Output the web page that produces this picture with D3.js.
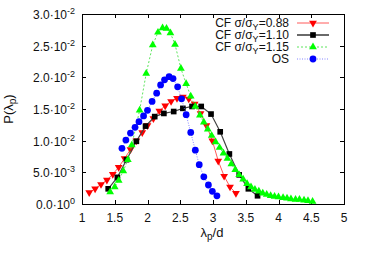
<!DOCTYPE html>
<html>
<head>
<meta charset="utf-8">
<script src="https://cdn.jsdelivr.net/npm/d3@7"></script>
<style>
  body { margin: 0; background: #fff; }
  text { font-family: "Liberation Sans", Arial, sans-serif; fill: #111; }
</style>
</head>
<body>
<svg id="chart"></svg>
<script>
// CF sigma/sigmaY = 0.88
var redX = [1.11,1.20,1.29,1.38,1.47,1.56,1.65,1.74,1.83,1.92,2.00,2.09,2.18,2.27,2.36,2.45,2.54,2.63,2.72,2.81,2.90,2.99,3.08,3.17,3.26,3.35];
var redY = [.0018,.0024,.0031,.0038,.0047,.0058,.0072,.0086,.0100,.0113,.0124,.0135,.0147,.0155,.0162,.0167,.0169,.0166,.0158,.0143,.0124,.0100,.0068,.0044,.0027,.0017];
// CF sigma/sigmaY = 1.10
var blackX = [1.40,1.54,1.68,1.83,1.97,2.11,2.25,2.40,2.54,2.68,2.82,2.97,3.11,3.25,3.40,3.54,3.68];
var blackY = [.0024,.0042,.0070,.0099,.0123,.0138,.0143,.0146,.0151,.0154,.0154,.0142,.0114,.0079,.0046,.0024,.0013];
// CF sigma/sigmaY = 1.15
var greenX = [1.43,1.50,1.56,1.63,1.70,1.76,1.88,1.98,2.08,2.16,2.23,2.29,2.35,2.42,2.51,2.59,2.66,2.73,2.80,2.86,2.92,2.98,3.04,3.10,3.16,3.22,3.28,3.34,3.40,3.46,3.52,3.58,3.64,3.70,3.76,3.82,3.88,3.94,4.00,4.07,4.13,4.19,4.26,4.32,4.39,4.45,4.52];
var greenY = [.0019,.0027,.0037,.0052,.0070,.0093,.0148,.0206,.0251,.0271,.0278,.0277,.0270,.0252,.0214,.0190,.0170,.0154,.0140,.0129,.0118,.0108,.0098,.0089,.0080,.0072,.0063,.0054,.0046,.0039,.0032,.0027,.0023,.0020,.0017,.0015,.0013,.0012,.0011,.0010,.0009,.0008,.0007,.0007,.0006,.0005,.0004];
// OS
var blueX = [1.61,1.67,1.74,1.81,1.87,1.94,2.00,2.07,2.14,2.20,2.26,2.33,2.39,2.46,2.52,2.59,2.66,2.73,2.79,2.86,2.93,2.99,3.06];
var blueY = [.0088,.0101,.0112,.0121,.0130,.0139,.0148,.0162,.0175,.0188,.0196,.0201,.0198,.0185,.0166,.0141,.0113,.0085,.0062,.0043,.0030,.0020,.0013];

var xTicks = [1,1.5,2,2.5,3,3.5,4,4.5,5];
var yTicks = [0,0.005,0.01,0.015,0.02,0.025,0.03];
var yTickMant = ["0.0","5.0","1.0","1.5","2.0","2.5","3.0"];
var yTickExp = ["0","-3","-2","-2","-2","-2","-2"];
var legendRatio = ["0.88","1.10","1.15"];

var width = 366, height = 256;
var plotL = 82, plotR = 344, plotT = 14, plotB = 204;

var svg = d3.select("#chart").attr("width", width).attr("height", height);

var x = d3.scaleLinear().domain([1,5]).range([plotL,plotR]);
var y = d3.scaleLinear().domain([0,0.03]).range([plotB,plotT]);

// ticks, inward on all sides
var tk = svg.append("g").attr("stroke","#000").attr("stroke-width",1);
xTicks.forEach(function(v){
  var px = Math.round(x(v)) + 0.5;
  tk.append("line").attr("x1",px).attr("x2",px).attr("y1",plotB).attr("y2",plotB-4);
  tk.append("line").attr("x1",px).attr("x2",px).attr("y1",plotT).attr("y2",plotT+4);
});
yTicks.forEach(function(v){
  var py = Math.round(y(v)) + 0.5;
  tk.append("line").attr("x1",plotL).attr("x2",plotL+4).attr("y1",py).attr("y2",py);
  tk.append("line").attr("x1",plotR).attr("x2",plotR-4).attr("y1",py).attr("y2",py);
});

svg.append("rect").attr("x",plotL+0.5).attr("y",plotT+0.5)
  .attr("width",plotR-plotL).attr("height",plotB-plotT)
  .attr("fill","none").attr("stroke","#000").attr("stroke-width",1);

// tick labels
svg.selectAll(".xl").data(xTicks).enter().append("text")
  .attr("x", function(d){ return x(d); })
  .attr("y", 222)
  .attr("text-anchor","middle")
  .attr("font-size",12)
  .text(function(d){ return d; });

var yl = svg.selectAll(".yl").data(yTicks).enter().append("text")
  .attr("x", 75)
  .attr("y", function(d){ return y(d) + 5; })
  .attr("text-anchor","end")
  .attr("font-size",12);
yl.append("tspan").text(function(d,i){ return yTickMant[i] + "\u00b710"; });
yl.append("tspan").attr("dy",-5).attr("font-size",9).text(function(d,i){ return yTickExp[i]; });

// axis titles
var xt = svg.append("text").attr("x",212).attr("y",237).attr("text-anchor","middle").attr("font-size",13);
xt.append("tspan").text("\u03bb");
xt.append("tspan").attr("dy",3).attr("font-size",10).text("p");
xt.append("tspan").attr("dy",-3).text("/d");

var ytt = svg.append("text").attr("transform","translate(13,109) rotate(-90)")
  .attr("text-anchor","middle").attr("font-size",13);
ytt.append("tspan").text("P(\u03bb");
ytt.append("tspan").attr("dy",3).attr("font-size",10).text("p");
ytt.append("tspan").attr("dy",-3).text(")");

// series
var series = [
  {xs: redX, ys: redY, line: "#ff3030", lw: 0.8, dash: null, fill: "#ff0000", sym: d3.symbolTriangle, size: 26, rot: 180},
  {xs: blackX, ys: blackY, line: "#444", lw: 1.2, dash: null, fill: "#000", sym: d3.symbolSquare, size: 32, rot: 0},
  {xs: greenX, ys: greenY, line: "#33dd33", lw: 0.8, dash: "2,2", fill: "#00ff00", sym: d3.symbolTriangle, size: 26, rot: 0},
  {xs: blueX, ys: blueY, line: "#6666ff", lw: 0.8, dash: "1,1.5", fill: "#0000ff", sym: d3.symbolCircle, size: 36, rot: 0}
];

var line = d3.line().x(function(d){ return x(d[0]); }).y(function(d){ return y(d[1]); });

series.forEach(function(s){
  var pts = s.xs.map(function(v,i){ return [v, s.ys[i]]; });
  var g = svg.append("g");
  g.append("path").attr("d", line(pts)).attr("fill","none")
    .attr("stroke", s.line).attr("stroke-width", s.lw)
    .attr("stroke-dasharray", s.dash);
  g.selectAll("path.m").data(pts).enter().append("path").attr("class","m")
    .attr("d", d3.symbol().type(s.sym).size(s.size))
    .attr("transform", function(d){ return "translate(" + x(d[0]) + "," + y(d[1]) + ") rotate(" + s.rot + ")"; })
    .attr("fill", s.fill);
});

// legend
var legY = [23, 35, 47, 59];
series.forEach(function(s,i){
  var t = svg.append("text").attr("x",289).attr("y",legY[i]+4).attr("text-anchor","end").attr("font-size",12);
  if (i < 3) {
    t.append("tspan").text("CF \u03c3/\u03c3");
    t.append("tspan").attr("dy",3).attr("font-size",9).text("Y");
    t.append("tspan").attr("dy",-3).text("=" + legendRatio[i]);
  } else {
    t.text("OS");
  }
  svg.append("line").attr("x1",297).attr("x2",329).attr("y1",legY[i]).attr("y2",legY[i])
    .attr("stroke", s.line).attr("stroke-width", i == 1 ? 1.6 : s.lw).attr("stroke-dasharray", s.dash);
  svg.append("path").attr("d", d3.symbol().type(s.sym).size(s.size))
    .attr("transform","translate(313," + legY[i] + ") rotate(" + s.rot + ")")
    .attr("fill", s.fill);
});
</script>
</body>
</html>
